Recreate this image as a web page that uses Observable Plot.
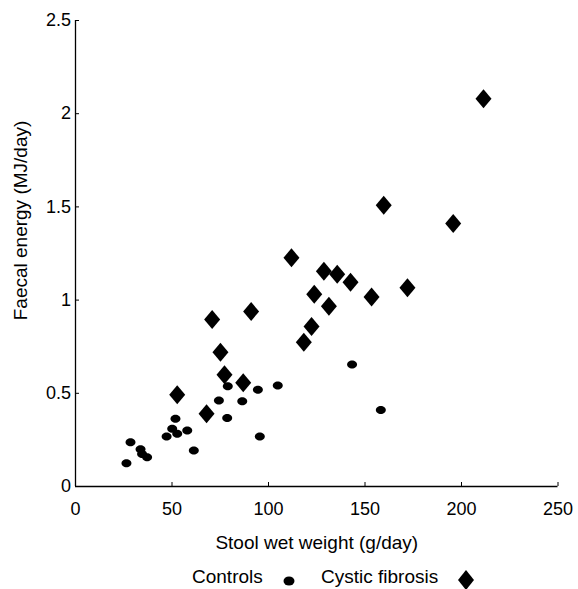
<!DOCTYPE html>
<html>
<head>
<meta charset="utf-8">
<script src="https://cdn.jsdelivr.net/npm/d3@7"></script>
<script src="https://cdn.jsdelivr.net/npm/@observablehq/plot@0.6"></script>
<style>
  body { margin: 0; background: #fff; font-family: "Liberation Sans", Arial, sans-serif; }
  #chart svg { display: block; }
  #legend { position: relative; height: 29px; font-size: 19px; color: #000; }
  #legend span, #legend svg { position: absolute; }
</style>
</head>
<body>
<div id="chart"></div>
<div id="legend"></div>
<script>
// Data
const controlsX = [26.4, 28.5, 33.7, 34.5, 37.1, 47.2, 50.1, 51.8, 52.7, 57.9, 61.3, 74.3, 78.6, 78.9, 86.4, 94.5, 95.5, 104.8, 143.3, 158.2];
const controlsY = [0.125, 0.238, 0.200, 0.175, 0.157, 0.268, 0.310, 0.363, 0.283, 0.300, 0.193, 0.461, 0.368, 0.538, 0.458, 0.519, 0.268, 0.542, 0.655, 0.411];
const cfX = [52.7, 67.9, 70.8, 75.1, 77.2, 86.9, 91.0, 111.9, 118.3, 122.3, 123.7, 128.7, 131.3, 135.6, 142.5, 153.4, 159.7, 172.0, 195.7, 211.4];
const cfY = [0.492, 0.390, 0.896, 0.720, 0.599, 0.556, 0.939, 1.227, 0.774, 0.858, 1.032, 1.155, 0.967, 1.139, 1.096, 1.016, 1.509, 1.066, 1.411, 2.080];
const xTicks = [0, 50, 100, 150, 200, 250];
const yTicks = [0, 0.5, 1, 1.5, 2, 2.5];
const xLabel = "Stool wet weight (g/day)";
const yLabel = "Faecal energy (MJ/day)";
const seriesNames = ["Controls", "Cystic fibrosis"];

const controls = controlsX.map((x, i) => ({x, y: controlsY[i]}));
const cf = cfX.map((x, i) => ({x, y: cfY[i]}));

const ellipse = {draw(ctx) {
  const rx = 5, ry = 4, k = 0.5523;
  ctx.moveTo(rx, 0);
  ctx.bezierCurveTo(rx, ry * k, rx * k, ry, 0, ry);
  ctx.bezierCurveTo(-rx * k, ry, -rx, ry * k, -rx, 0);
  ctx.bezierCurveTo(-rx, -ry * k, -rx * k, -ry, 0, -ry);
  ctx.bezierCurveTo(rx * k, -ry, rx, -ry * k, rx, 0);
  ctx.closePath();
}};
const diamond = {draw(ctx) {
  ctx.moveTo(0, -9.5); ctx.lineTo(8, 0); ctx.lineTo(0, 9.5); ctx.lineTo(-8, 0); ctx.closePath();
}};

const chart = Plot.plot({
  width: 578,
  height: 560,
  marginLeft: 75,
  marginRight: 20.5,
  marginTop: 20,
  marginBottom: 74,
  style: {fontFamily: "Liberation Sans, Arial, sans-serif", color: "#000", background: "#fff"},
  x: {domain: [0, 250]},
  y: {domain: [0, 2.5]},
  marks: [
    Plot.ruleY([0], {stroke: "#000", strokeWidth: 1.3}),
    Plot.ruleX([0], {stroke: "#000", strokeWidth: 1.3}),
    Plot.axisX({ticks: xTicks, tickFormat: d => String(d), tickSize: -4, tickPadding: 19.5, fontSize: 18, fill: "#000", stroke: "#000", label: null}),
    Plot.axisY({ticks: yTicks, tickFormat: d => String(d), tickSize: -4, tickPadding: 8.5, fontSize: 18, fill: "#000", stroke: "#000", label: null}),
    Plot.text([xLabel], {frameAnchor: "bottom", dy: 62, fontSize: 19, fill: "#000"}),
    Plot.text([yLabel], {frameAnchor: "left", rotate: -90, textAnchor: "middle", dx: -55, dy: -33, fontSize: 19, fill: "#000"}),
    Plot.dot(controls, {x: "x", y: "y", symbol: ellipse, fill: "#000", stroke: "none"}),
    Plot.dot(cf, {x: "x", y: "y", symbol: diamond, fill: "#000", stroke: "none"})
  ]
});
const tickStrings = new Set([...xTicks, ...yTicks].map(String));
chart.querySelectorAll("text").forEach(t => {
  if (tickStrings.has(t.textContent.trim())) t.style.fontSize = "18px";
});
document.getElementById("chart").appendChild(chart);

const legend = document.getElementById("legend");
legend.innerHTML = `
  <span style="left:192px; top:6px;">${seriesNames[0]}</span>
  <svg width="12" height="10" style="left:283px; top:16px;"><ellipse cx="6" cy="5" rx="5.5" ry="4.5" fill="#000"/></svg>
  <span style="left:321px; top:6px;">${seriesNames[1]}</span>
  <svg width="18" height="20" style="left:457px; top:10px;"><path d="M9,0L17,10L9,20L1,10Z" fill="#000"/></svg>
`;
</script>
</body>
</html>
